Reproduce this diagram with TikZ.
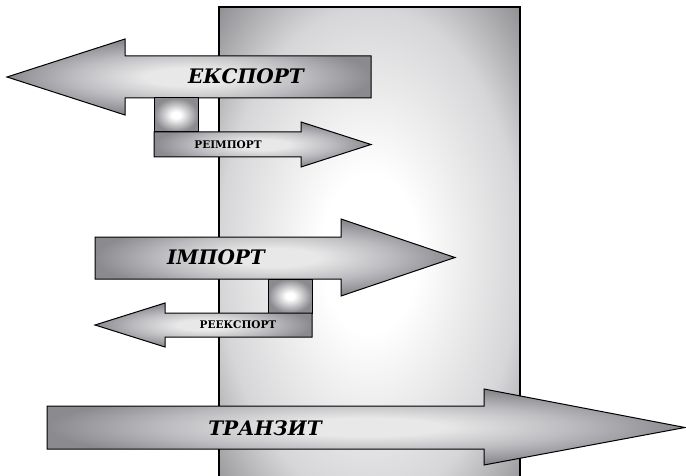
\documentclass[tikz,border=0pt]{standalone}
\usepackage{fontspec}
\setmainfont{DejaVu Serif}
\definecolor{arrowlight}{RGB}{232,232,232}
\definecolor{arrowmid}{RGB}{188,188,192}
\definecolor{arrowdark}{RGB}{138,138,143}
\definecolor{panellight}{RGB}{255,255,255}
\definecolor{panelmid}{RGB}{214,214,216}
\definecolor{paneldark}{RGB}{140,140,144}
\pgfdeclareradialshading{arrowshade}{\pgfpoint{0bp}{0bp}}{%
  color(0bp)=(arrowlight); color(6bp)=(arrowlight); color(16bp)=(arrowmid);
  color(25bp)=(arrowdark); color(50bp)=(arrowdark)}
\pgfdeclareradialshading{panelshade}{\pgfpoint{0bp}{0bp}}{%
  color(0bp)=(panellight); color(8bp)=(panellight); color(25bp)=(panelmid);
  color(36bp)=(paneldark); color(50bp)=(paneldark)}
\pgfdeclareradialshading{boxshade}{\pgfpoint{0bp}{0bp}}{%
  color(0bp)=(white); color(5bp)=(white); color(25bp)=(arrowdark); color(50bp)=(arrowdark)}
\tikzset{
  arrowbody/.style={draw=black, line width=1pt, line join=miter, shading=arrowshade},
  joinbox/.style={draw=black, line width=1pt, shading=boxshade},
  panel/.style={draw=black, line width=1.6pt, shading=panelshade},
  biglabel/.style={font=\fontsize{20}{20}\selectfont\bfseries\itshape, inner sep=0pt},
  smalllabel/.style={font=\fontsize{10.5}{10.5}\selectfont\bfseries, inner sep=0pt}
}
\begin{document}
\begin{tikzpicture}[x=1pt,y=-1pt]
  \clip (0,0) rectangle (686,476);
  % border panel behind the flows
  \path[panel] (219,7) rectangle (520,500);

  % export with re-import
  \path[arrowbody] (371,56) -- (125,56) -- (125,39) -- (7,77) -- (125,115)
    -- (125,98) -- (371,98) -- cycle;
  \path[joinbox] (154,98) rectangle (198,132);
  \path[arrowbody] (154,132) -- (301,132) -- (301,122) -- (371,144.5)
    -- (301,167) -- (301,157) -- (154,157) -- cycle;
  \node[biglabel] (export) at (246,76) {ЕКСПОРТ};
  \node[smalllabel] (reimport) at (228,144.5) {РЕІМПОРТ};

  % import with re-export
  \path[arrowbody] (95,237) -- (341,237) -- (341,219) -- (455,257.5)
    -- (341,296) -- (341,279) -- (95,279) -- cycle;
  \path[joinbox] (268,279) rectangle (312,313);
  \path[arrowbody] (312,313) -- (165,313) -- (165,303) -- (95,325)
    -- (165,347) -- (165,337) -- (312,337) -- cycle;
  \node[biglabel] (import) at (216,257) {ІМПОРТ};
  \node[smalllabel] (reexport) at (238,325) {РЕЕКСПОРТ};

  % transit
  \path[arrowbody] (47,406) -- (484,406) -- (484,389) -- (685,427.5)
    -- (484,465) -- (484,449) -- (47,449) -- cycle;
  \node[biglabel] (transit) at (265,428) {ТРАНЗИТ};
\end{tikzpicture}
\end{document}
